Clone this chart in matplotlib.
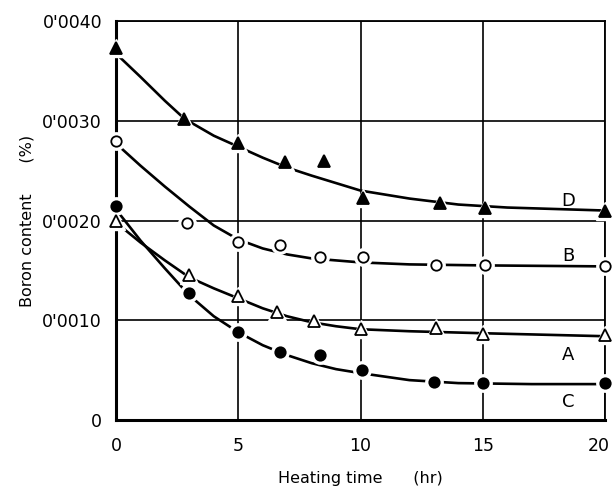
import matplotlib
matplotlib.use("Agg")
import matplotlib.pyplot as plt
from matplotlib.transforms import ScaledTranslation

# measured points (heating time hr, boron %)
a_t = [0, 3.0, 5.0, 6.6, 8.1, 10.0, 13.1, 15.0, 20.0]
a_b = [0.00200, 0.00145, 0.00124, 0.00108, 0.00099, 0.00091, 0.00092, 0.00086, 0.00085]
b_t = [0, 2.9, 5.0, 6.7, 8.35, 10.1, 13.1, 15.1, 20.0]
b_b = [0.00280, 0.00197, 0.00178, 0.00175, 0.00163, 0.00163, 0.00155, 0.00155, 0.00154]
c_t = [0, 3.0, 5.0, 6.7, 8.35, 10.05, 13.0, 15.0, 20.0]
c_b = [0.00215, 0.00127, 0.00088, 0.00068, 0.00065, 0.00050, 0.00038, 0.00037, 0.00037]
d_t = [0, 2.8, 5.0, 6.9, 8.5, 10.1, 13.25, 15.1, 20.0]
d_b = [0.00373, 0.00302, 0.00278, 0.00259, 0.00260, 0.00223, 0.00218, 0.00213, 0.00210]

# hand-drawn curves
ca_t = [0.1, 1, 2, 3, 4, 5, 6, 7, 8, 9, 10, 12, 15, 20]
ca_b = [0.00196, 0.00178, 0.00160, 0.00143, 0.00132, 0.00122, 0.00112, 0.00104,
        0.00098, 0.00094, 0.00091, 0.00089, 0.00087, 0.00084]
cb_t = [0.1, 1, 2, 3, 4, 5, 6, 7, 8, 10, 12, 15, 20]
cb_b = [0.00275, 0.00255, 0.00234, 0.00214, 0.00195, 0.00181, 0.00172, 0.00166,
        0.00162, 0.00158, 0.00156, 0.00155, 0.00154]
cc_t = [0.1, 1, 2, 3, 4, 5, 6, 7, 8, 9, 10, 12, 14, 17, 20]
cc_b = [0.00208, 0.00180, 0.00152, 0.00125, 0.00104, 0.00088, 0.00075, 0.00065,
        0.00057, 0.00051, 0.00047, 0.00040, 0.00037, 0.00036, 0.00036]
cd_t = [0.1, 1, 2, 2.8, 4, 5, 6, 7, 8, 10, 12, 14, 16, 20]
cd_b = [0.00365, 0.00344, 0.00320, 0.00302, 0.00285, 0.00274, 0.00263, 0.00253,
        0.00245, 0.00230, 0.00222, 0.00216, 0.00213, 0.00210]

xticks = [0, 5, 10, 15, 20]
yticks = [0, 0.001, 0.002, 0.003, 0.004]
ylabels = ["0", "0'0010", "0'0020", "0'0030", "0'0040"]

fig = plt.figure(figsize=(6.13, 4.88), dpi=100)
ax = fig.add_axes([0.1892, 0.1393, 0.7978, 0.8177])

for t, b in [(ca_t, ca_b), (cb_t, cb_b), (cc_t, cc_b), (cd_t, cd_b)]:
    ax.plot(t, b, color="black", lw=1.9, zorder=3, solid_capstyle="butt")

series = [(a_t, a_b, "^", "white", 8), (b_t, b_b, "o", "white", 7.5),
          (c_t, c_b, "o", "black", 7.5), (d_t, d_b, "^", "black", 8)]
for t, b, m, fc, ms in series:
    # white halo so the curve breaks around each point
    ax.plot(t, b, ls="none", marker=m, ms=ms + 5, mfc="white", mec="white",
            zorder=4, clip_on=False)
    ax.plot(t, b, ls="none", marker=m, ms=ms, mfc=fc, mec="black", mew=1.3,
            zorder=5, clip_on=False)

ax.text(18.5, 0.00220, "D", fontsize=13, ha="center", va="center")
ax.text(18.5, 0.00164, "B", fontsize=13, ha="center", va="center")
ax.text(18.5, 0.00065, "A", fontsize=13, ha="center", va="center")
ax.text(18.5, 0.00018, "C", fontsize=13, ha="center", va="center")

ax.set_xlim(0, 20)
ax.set_ylim(0, 0.004)
ax.set_xticks(xticks)
ax.set_xticklabels([str(x) for x in xticks], fontsize=12.5)
ax.set_yticks(yticks)
ax.set_yticklabels(ylabels, fontsize=12.5)
ax.tick_params(axis="y", length=0, pad=10)
ax.tick_params(axis="x", length=0, pad=12)
# pull the last x label in a little, as in the scan
last = ax.get_xticklabels()[-1]
last.set_transform(last.get_transform() + ScaledTranslation(-6 / 100, 0, fig.dpi_scale_trans))

ax.grid(True, color="black", lw=1.2)
ax.set_axisbelow(True)
ax.spines["left"].set_linewidth(2.2)
ax.spines["bottom"].set_linewidth(2.2)
ax.spines["top"].set_linewidth(1.3)
ax.spines["right"].set_linewidth(1.3)

ax.set_xlabel("Heating time      (hr)", fontsize=11.5, labelpad=12)
ax.set_ylabel("Boron content      (%)", fontsize=11.5, labelpad=6)

fig.savefig("out.png", dpi=100)
